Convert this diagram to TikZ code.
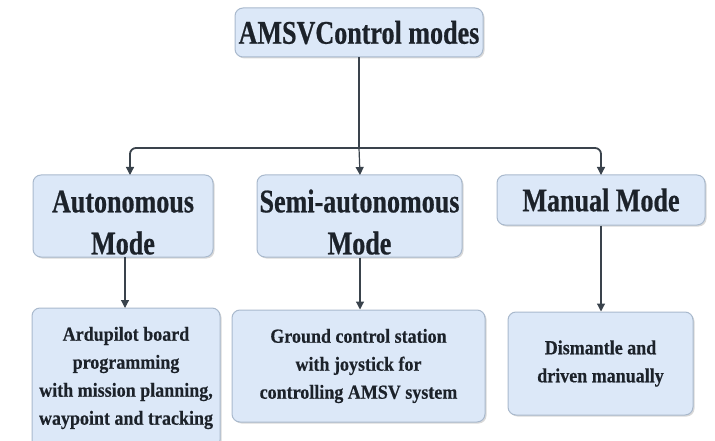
\documentclass[tikz,border=0pt]{standalone}
\usepackage{fontspec}
\setmainfont{Liberation Serif}
\newfontfamily\bigfont[FakeStretch=0.79,FakeBold=0.6]{Liberation Serif}
\newfontfamily\smallfont[FakeStretch=0.9,FakeBold=0.4]{Liberation Serif}
\usetikzlibrary{arrows.meta,shadows}
\definecolor{boxfill}{HTML}{DCE8F8}
\definecolor{boxline}{HTML}{A9B9CD}
\definecolor{linecol}{HTML}{3A434C}
\definecolor{txtcol}{HTML}{1C222A}
\tikzset{
  box/.style={draw=boxline, line width=1pt, fill=boxfill, rounded corners=8pt,
    align=center, inner sep=0pt, text=txtcol,
    drop shadow={shadow xshift=1.5pt, shadow yshift=-1.5pt, fill=black!25, opacity=0.6}},
  bigtxt/.style={font=\bigfont\bfseries\fontsize{33}{42}\selectfont},
  smalltxt/.style={font=\smallfont\bfseries\fontsize{20}{28}\selectfont},
  conn/.style={draw=linecol, line width=1.8pt},
  arr/.style={draw=linecol, line width=1.2pt, -{Triangle[length=8pt,width=8pt]}},
}
\newcommand{\lowstrut}{\rule{0pt}{35pt}}
\begin{document}
\begin{tikzpicture}[x=1pt,y=-1pt]
\useasboundingbox (0,0) rectangle (715,441);
\node[box, bigtxt, minimum width=248pt, minimum height=49pt] (top) at (359,32.5) {AMSVControl modes};
\node[box, bigtxt, minimum width=180pt, minimum height=82pt] (auto) at (123,216) {\lowstrut Autonomous\\Mode};
\node[box, bigtxt, minimum width=205pt, minimum height=82pt] (semi) at (359.5,216) {\lowstrut Semi-autonomous\\Mode};
\node[box, bigtxt, minimum width=208pt, minimum height=50pt] (man) at (601,200) {Manual Mode};
\node[box, smalltxt, minimum width=188pt, minimum height=140pt] (ard) at (126,378) {Ardupilot board\\programming\\with mission planning,\\waypoint and tracking};
\node[box, smalltxt, minimum width=253pt, minimum height=112pt] (gcs) at (358.5,366) {Ground control station\\with joystick for\\controlling AMSV system};
\node[box, smalltxt, minimum width=185pt, minimum height=103pt] (dis) at (600.5,363.5) {Dismantle and\\driven manually};
\coordinate (j) at (359,148);
\coordinate (aTop) at (130,175);
\coordinate (sTop) at (360,175);
\coordinate (mTop) at (601,175);
\coordinate (aMid) at (130,160);
\coordinate (mMid) at (601,160);
\draw[conn] (top.south) -- (j);
\draw[conn, rounded corners=6pt] (j) -| (aMid);
\draw[conn, rounded corners=6pt] (j) -| (mMid);
\draw[arr] (aMid) -- (aTop);
\draw[arr] (j) -- (sTop);
\draw[arr] (mMid) -- (mTop);
\coordinate (aBot) at (125,257);
\coordinate (ardTop) at (125,308);
\draw[arr] (aBot) -- (ardTop);
\draw[arr] (semi.south -| sTop) -- (gcs.north -| sTop);
\draw[arr] (man.south) -- (dis.north -| man.south);
\end{tikzpicture}
\end{document}
